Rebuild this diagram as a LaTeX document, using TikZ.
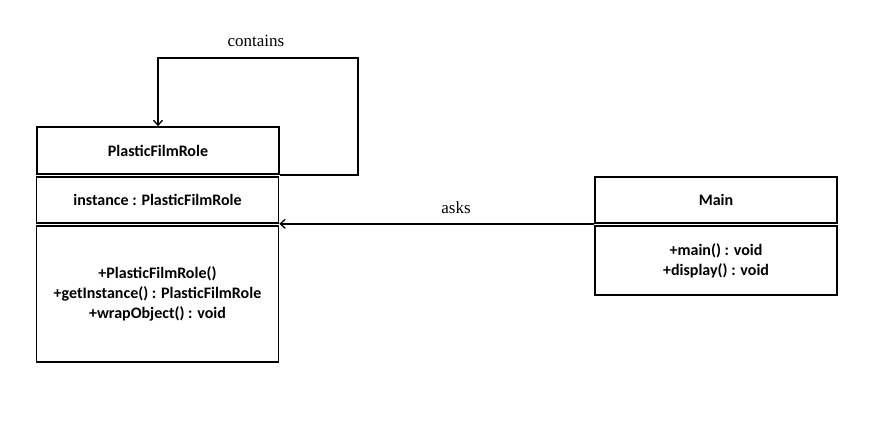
\documentclass[tikz,border=0pt]{standalone}
\usepackage{fontspec}
\setmainfont{Liberation Serif}
\newfontfamily\boxfont{Carlito}
\usetikzlibrary{arrows.meta,positioning,calc}

\tikzset{
  umlbox/.style={draw,line width=1.6pt,minimum width=242pt,inner sep=0pt,align=center,font=\boxfont\bfseries\fontsize{16}{20}\selectfont},
  rel/.style={line width=1.6pt,-{Straight Barb[length=5pt,width=9pt,line width=1.3pt]}},
  rellabel/.style={font=\fontsize{17}{19}\selectfont}
}

\begin{document}
\begin{tikzpicture}[x=1pt,y=-1pt,line join=miter]
\useasboundingbox (0,0) rectangle (894,423);
% PlasticFilmRole
\node[umlbox,minimum height=47pt] (title) at (158,150.5) {PlasticFilmRole};
\node[umlbox,minimum height=46pt] (attr) at (157.5,200) {instance : PlasticFilmRole};
\node[umlbox,minimum height=136pt] (meth) at (157.5,294) {+PlasticFilmRole()\\+getInstance() : PlasticFilmRole\\+wrapObject() : void};
% Main
\node[umlbox,minimum height=46pt] (maint) at (716,200) {Main};
\node[umlbox,minimum height=69pt] (mainm) at (716,260.5) {+main() : void\\+display() : void};
% relations
\coordinate (loop) at (358,58);
\draw[rel] (title.south east) -| (loop) -| (title.north);
\draw[rel] (maint.south west) -- (attr.south east |- maint.south west);
\node[rellabel] (lcontains) at (256,41) {contains};
\node[rellabel] (lasks) at (456,208) {asks};
\end{tikzpicture}
\end{document}
